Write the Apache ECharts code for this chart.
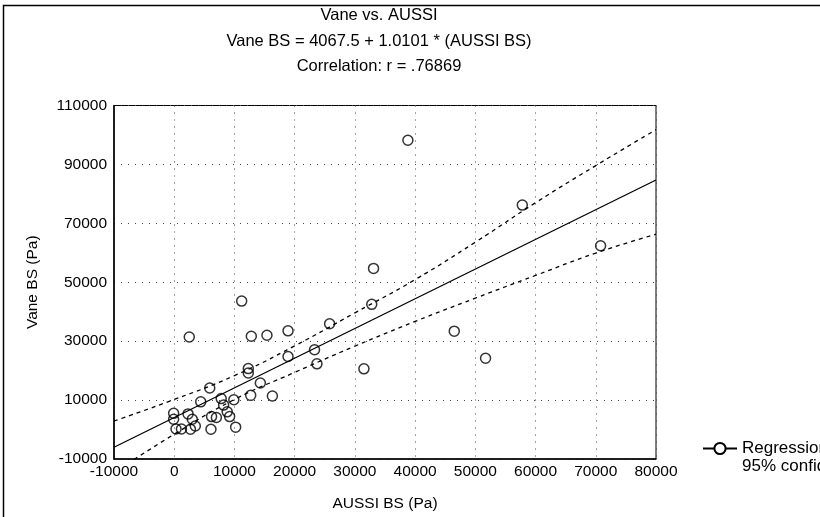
<!DOCTYPE html>
<html>
<head>
<meta charset="utf-8">
<script src="https://cdn.jsdelivr.net/npm/echarts@6/dist/echarts.min.js"></script>
<style>
html,body{margin:0;padding:0;background:#fff;}
#chart{width:820px;height:517px;}
</style>
</head>
<body>
<div id="chart"></div>
<script>
// ---- data ----
const aussiBS = [-100, -100, 300, 1200, 2500, 2300, 3000, 2700, 3500, 4400, 5900, 6200, 7000, 6100, 7800, 8200, 8800, 9200, 9900, 10200, 11200, 12300, 12300, 12700, 12800, 14300, 15400, 16300, 18900, 18900, 23300, 23700, 25800, 31500, 32800, 33100, 38800, 46500, 51700, 57800, 70800];
const vaneBS  = [5500, 3500, 200, 200, 31400, 5300, 3500, 100, 1200, 9400, 14100, 4400, 4100, 100, 10500, 8300, 6000, 4400, 10100, 800, 43600, 20700, 19200, 11600, 31650, 15800, 32000, 11400, 33500, 24800, 27100, 22300, 35900, 20600, 42500, 54700, 98200, 33400, 24200, 76200, 62400];

const regX = [-10000, 80000];
const regY = [-6000, 84700];

const bandX     = [-10000, 0, 10000, 20000, 30000, 40000, 50000, 60000, 70000, 80000];
const bandUpper = [2900, 10200, 18300, 28400, 39600, 50900, 63600, 77000, 89600, 101800];
const bandLower = [-14600, -1600, 10200, 19400, 28300, 36700, 44600, 52300, 59900, 66300];

const xTicks = {min: -10000, max: 80000, step: 10000};
const yTicks = {min: -10000, max: 110000, step: 20000};

const titleLines = ['Vane vs. AUSSI', 'Vane BS = 4067.5 + 1.0101 * (AUSSI BS)', 'Correlation: r = .76869'];
const xName = 'AUSSI BS (Pa)';
const yName = 'Vane BS (Pa)';
const legendNames = ['Regression', '95% confidence'];

// ---- build ----
const zip = (a, b) => a.map((v, i) => [v, b[i]]);
const FONT = '"Liberation Sans", Arial, sans-serif';
const plain = v => String(v);

const chart = echarts.init(document.getElementById('chart'), null, {renderer: 'canvas'});
const titleFont = '16.5px ' + FONT;
const option = {
  backgroundColor: '#fff',
  animation: false,
  graphic: [
    {type: 'rect', shape: {x: 3.5, y: 5.5, width: 900, height: 600}, style: {fill: 'none', stroke: '#000', lineWidth: 1.5}, silent: true, z: 0},
    {type: 'text', x: 379, y: 15, style: {text: titleLines[0], textAlign: 'center', textVerticalAlign: 'middle', font: titleFont, fill: '#000'}},
    {type: 'text', x: 379, y: 41, style: {text: titleLines[1], textAlign: 'center', textVerticalAlign: 'middle', font: titleFont, fill: '#000'}},
    {type: 'text', x: 379, y: 66, style: {text: titleLines[2], textAlign: 'center', textVerticalAlign: 'middle', font: titleFont, fill: '#000'}}
  ],
  legend: {
    orient: 'vertical',
    left: 702,
    top: 440,
    itemWidth: 34,
    itemHeight: 14,
    itemGap: 1,
    padding: 0,
    selectedMode: false,
    textStyle: {fontFamily: FONT, fontSize: 17, color: '#000'},
    data: [
      {name: legendNames[0]},
      {name: legendNames[1], icon: 'none'}
    ]
  },
  grid: {left: 114, right: 164, top: 105.5, bottom: 58, show: true, borderColor: '#000', borderWidth: 1, backgroundColor: 'transparent'},
  xAxis: {
    type: 'value',
    min: xTicks.min, max: xTicks.max, interval: xTicks.step,
    name: xName, nameLocation: 'middle', nameGap: 37,
    nameTextStyle: {fontFamily: FONT, fontSize: 15.5, color: '#000'},
    axisLine: {show: true, onZero: false, lineStyle: {color: '#000', width: 1.5}},
    axisTick: {show: false},
    axisLabel: {fontFamily: FONT, fontSize: 15.5, color: '#000', margin: 5, formatter: plain},
    splitLine: {show: true, lineStyle: {color: '#444', width: 1, type: [1, 6]}}
  },
  yAxis: {
    type: 'value',
    min: yTicks.min, max: yTicks.max, interval: yTicks.step,
    name: yName, nameLocation: 'middle', nameGap: 73, nameRotate: 90,
    nameTextStyle: {fontFamily: FONT, fontSize: 15.5, color: '#000'},
    axisLine: {show: true, onZero: false, lineStyle: {color: '#000', width: 1.5}},
    axisTick: {show: false},
    axisLabel: {fontFamily: FONT, fontSize: 15.5, color: '#000', margin: 7, formatter: plain},
    splitLine: {show: true, lineStyle: {color: '#444', width: 1, type: [1, 6]}}
  },
  series: [
    {
      name: legendNames[0],
      type: 'line',
      data: zip(regX, regY),
      symbol: 'emptyCircle', symbolSize: 9, showSymbol: false,
      lineStyle: {color: '#000', width: 1.3},
      itemStyle: {color: '#000', borderWidth: 1.5},
      z: 3
    },
    {
      name: legendNames[1],
      type: 'line',
      data: zip(bandX, bandUpper),
      smooth: 0.5, symbol: 'none',
      lineStyle: {color: '#000', width: 1.3, type: [4, 4]},
      itemStyle: {color: '#000'},
      z: 3
    },
    {
      name: 'lower',
      type: 'line',
      data: zip(bandX, bandLower),
      smooth: 0.5, symbol: 'none',
      lineStyle: {color: '#000', width: 1.3, type: [4, 4]},
      itemStyle: {color: '#000'},
      z: 3
    },
    {
      name: 'points',
      type: 'scatter',
      data: zip(aussiBS, vaneBS),
      symbol: 'circle', symbolSize: 10,
      itemStyle: {color: 'rgba(255,255,255,0)', borderColor: '#000', borderWidth: 1.5},
      z: 4
    }
  ]
};
chart.setOption(option);
</script>
</body>
</html>
